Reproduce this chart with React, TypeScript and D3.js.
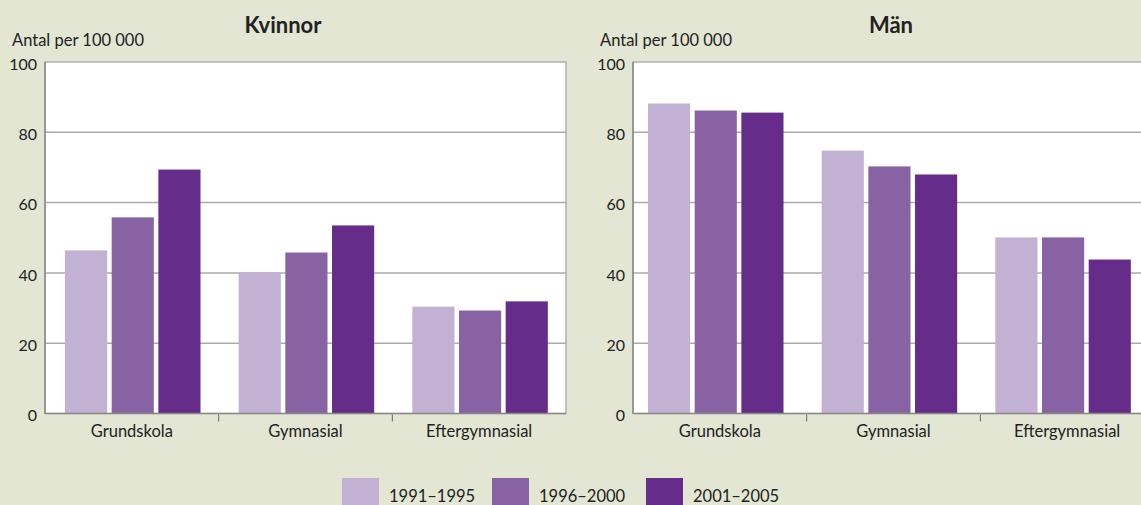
import React from 'react';
import * as d3 from 'd3';

const width = 1141;
const height = 505;
const bg = '#e2e6d3';
const font = 'Lato, "Open Sans", sans-serif';

const categories = ['Grundskola', 'Gymnasial', 'Eftergymnasial'];
const periods = ['1991–1995', '1996–2000', '2001–2005'];
const colors = ['#c2b1d3', '#8863a3', '#652d89'];

// rate per 100 000, one row per category, one value per period
const women = [
  [46.4, 55.8, 69.4],
  [40.2, 45.8, 53.5],
  [30.4, 29.3, 31.9],
];
const men = [
  [88.2, 86.2, 85.6],
  [74.8, 70.3, 68.0],
  [50.1, 50.1, 43.8],
];
const yTicks = [0, 20, 40, 60, 80, 100];

const plotTop = 62;
const plotBottom = 413.5;
const plotWidth = 521;

const y = d3.scaleLinear().domain([0, 100]).range([plotBottom, plotTop]);
const x0 = d3.scaleBand().domain(categories).range([0, plotWidth]);

function Panel({ left, title, titleX, values, inset }) {
  // bars sit a little off-centre inside each category band
  const x1 = d3.scaleBand().domain(periods).range([inset, inset + 135.5]).paddingInner(0.097);
  return (
    <g>
      <text x={titleX} y={33} textAnchor="middle" fontSize={22} fontWeight="bold" fill="#222">
        {title}
      </text>
      <text x={left - 33} y={46} fontSize={16.5} fill="#222">
        Antal per 100 000
      </text>
      <g transform={`translate(${left},0)`}>
        <rect x={0} y={plotTop} width={plotWidth} height={plotBottom - plotTop} fill="#fff" stroke="#a0a0a0" strokeWidth={1.2} />
        {yTicks.map((t) => (
          <g key={t}>
            {t > 0 && t < 100 && (
              <line x1={0} x2={plotWidth} y1={y(t)} y2={y(t)} stroke="#ababab" strokeWidth={1.5} />
            )}
            <text x={-8} y={y(t) + 2} dy="0.35em" textAnchor="end" fontSize={16} fill="#222">
              {t}
            </text>
          </g>
        ))}
        {categories.map((c, i) => (
          <g key={c} transform={`translate(${x0(c)},0)`}>
            {periods.map((p, j) => (
              <rect
                key={p}
                x={x1(p)}
                y={y(values[i][j])}
                width={x1.bandwidth()}
                height={y(0) - y(values[i][j])}
                fill={colors[j]}
              />
            ))}
            <text x={x0.bandwidth() / 2} y={437} textAnchor="middle" fontSize={16.5} fill="#222">
              {c}
            </text>
          </g>
        ))}
        {categories.slice(1).map((c) => (
          <line key={c} x1={x0(c)} x2={x0(c)} y1={plotBottom + 1} y2={plotBottom + 8} stroke="#666" strokeWidth={1} />
        ))}
        <line x1={0} x2={plotWidth} y1={plotBottom} y2={plotBottom} stroke="#888" strokeWidth={1.5} />
        <line x1={0} x2={0} y1={plotTop} y2={plotBottom} stroke="#888" strokeWidth={1.5} />
      </g>
    </g>
  );
}

const legendX = [342, 492, 646];

export default function App() {
  return (
    <div style={{ position: 'absolute', left: 0, top: 0 }}>
      <svg width={width} height={height} fontFamily={font} style={{ display: 'block' }}>
        <rect width={width} height={height} fill={bg} />
        <Panel left={45} title="Kvinnor" titleX={283} values={women} inset={20} />
        <Panel left={633} title="Män" titleX={891} values={men} inset={15} />
        {periods.map((p, i) => (
          <g key={p} transform={`translate(${legendX[i]},478)`}>
            <rect width={37} height={30} fill={colors[i]} />
            <text x={47} y={24} fontSize={16.5} fill="#222">
              {p}
            </text>
          </g>
        ))}
      </svg>
    </div>
  );
}
